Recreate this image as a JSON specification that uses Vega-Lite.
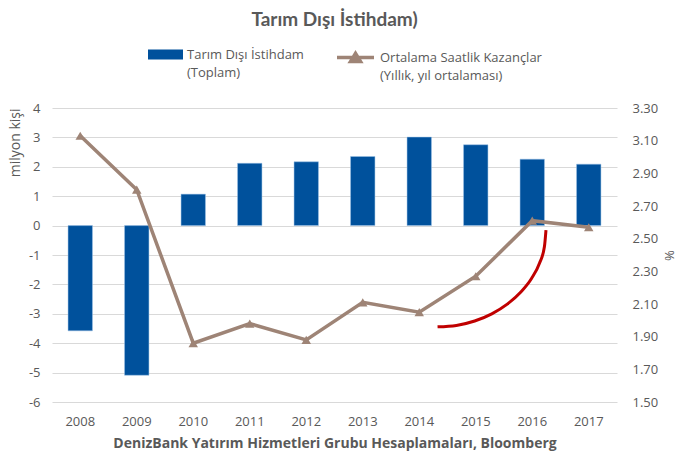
{
  "$schema": "https://vega.github.io/schema/vega-lite/v6.json",
  "width": 565,
  "height": 294,
  "autosize": {"type": "none"},
  "padding": {"left": 52, "top": 108, "right": 63, "bottom": 57},
  "background": "white",
  "config": {
    "font": "Open Sans",
    "view": {"stroke": null},
    "style": {"guide-label": {"lineHeight": 18}},
    "axis": {"labelColor": "#595959", "titleColor": "#595959", "labelFontSize": 13, "titleFontSize": 13, "labelFont": "Open Sans", "titleFont": "Open Sans"}
  },
  "title": {
    "text": "Tarım Dışı İstihdam)",
    "fontSize": 19,
    "fontWeight": "bold",
    "color": "#595959",
    "font": "Lato",
    "anchor": "middle",
    "offset": 7
  },
  "datasets": {
    "main": [
      {"year": 2008, "emp": -3.58, "wage": 3.13},
      {"year": 2009, "emp": -5.09, "wage": 2.80},
      {"year": 2010, "emp": 1.07, "wage": 1.86},
      {"year": 2011, "emp": 2.12, "wage": 1.98},
      {"year": 2012, "emp": 2.17, "wage": 1.88},
      {"year": 2013, "emp": 2.35, "wage": 2.11},
      {"year": 2014, "emp": 3.01, "wage": 2.05},
      {"year": 2015, "emp": 2.75, "wage": 2.27},
      {"year": 2016, "emp": 2.26, "wage": 2.61},
      {"year": 2017, "emp": 2.09, "wage": 2.57}
    ],
    "arc": [
      {"t": 2014.324, "v": 1.960},
      {"t": 2014.657, "v": 1.969},
      {"t": 2014.981, "v": 1.996},
      {"t": 2015.284, "v": 2.040},
      {"t": 2015.558, "v": 2.099},
      {"t": 2015.794, "v": 2.172},
      {"t": 2015.987, "v": 2.256},
      {"t": 2016.128, "v": 2.350},
      {"t": 2016.215, "v": 2.450},
      {"t": 2016.243, "v": 2.553}
    ]
  },
  "layer": [
    {
      "data": {"name": "main"},
      "mark": {"type": "bar", "stroke": "#9DC3E6", "strokeWidth": 0.5},
      "encoding": {
        "x": {
          "field": "year", "type": "ordinal",
          "scale": {"paddingInner": 0.568, "paddingOuter": 0.284},
          "axis": {
            "title": "DenizBank Yatırım Hizmetleri Grubu Hesaplamaları,  Bloomberg",
            "titleFontWeight": "bold", "titleFontSize": 14, "titlePadding": 8,
            "labelAngle": 0, "labelPadding": 13, "ticks": false, "domain": false, "grid": false
          }
        },
        "y": {
          "field": "emp", "type": "quantitative",
          "scale": {"domain": [-6, 4], "nice": false, "zero": false},
          "axis": {
            "title": "milyon kişi", "titleFontWeight": "normal", "titleFontSize": 14, "titleAnchor": "end", "titlePadding": 6,
            "values": [-6, -5, -4, -3, -2, -1, 0, 1, 2, 3, 4],
            "labelExpr": "toString(datum.value)",
            "grid": true, "gridColor": "#D9D9D9", "gridWidth": 1,
            "ticks": false, "domain": false, "labelPadding": 12
          }
        },
        "color": {
          "datum": "Tarım Dışı İstihdam|(Toplam)",
          "type": "nominal",
          "scale": {"range": ["#00519C"]},
          "legend": {
            "orient": "none", "legendX": 96, "legendY": -71, "title": null, "padding": 0,
            "symbolType": "M-1,-0.286L1,-0.286L1,0.286L-1,0.286Z", "symbolSize": 1225, "symbolStrokeWidth": 0,
            "labelExpr": "split(datum.label, '|')", "labelFontSize": 13, "labelColor": "#595959", "labelFont": "Open Sans",
            "labelBaseline": "middle", "labelLimit": 400, "labelOffset": 4,
            "encode": {"labels": {"update": {"lineHeight": {"value": 18}}}}
          }
        }
      }
    },
    {
      "data": {"name": "main"},
      "mark": {"type": "line", "strokeWidth": 3.5},
      "encoding": {
        "x": {"field": "year", "type": "ordinal", "axis": null},
        "y": {
          "field": "wage", "type": "quantitative",
          "scale": {"domain": [1.5, 3.3], "nice": false, "zero": false},
          "axis": {
            "orient": "right", "title": "%", "titleFontWeight": "normal", "titlePadding": 4,
            "values": [1.5, 1.7, 1.9, 2.1, 2.3, 2.5, 2.7, 2.9, 3.1, 3.3], "format": ".2f",
            "grid": false, "ticks": false, "domain": false, "labelPadding": 15
          }
        },
        "stroke": {
          "datum": "Ortalama Saatlik Kazançlar|(Yıllık, yıl ortalaması)",
          "type": "nominal",
          "scale": {"range": ["#9E8476"]},
          "legend": {
            "orient": "none", "legendX": 283, "legendY": -71, "title": null, "padding": 0,
            "symbolType": "M-1,0L1,0M-0.27,0.22L0,-0.22L0.27,0.22Z", "symbolSize": 1369, "symbolStrokeWidth": 3.5,
            "symbolFillColor": "#9E8476",
            "labelExpr": "split(datum.label, '|')", "labelFontSize": 13, "labelColor": "#595959", "labelFont": "Open Sans",
            "labelBaseline": "middle", "labelLimit": 400, "labelOffset": 4,
            "encode": {"labels": {"update": {"lineHeight": {"value": 18}}}, "symbols": {"update": {"fill": {"value": "#9E8476"}}}}
          }
        }
      }
    },
    {
      "data": {"name": "main"},
      "mark": {"type": "point", "shape": "triangle-up", "filled": true, "color": "#9E8476", "size": 90, "opacity": 1},
      "encoding": {
        "x": {"field": "year", "type": "ordinal", "axis": null},
        "y": {"field": "wage", "type": "quantitative", "scale": {"domain": [1.5, 3.3], "nice": false, "zero": false}, "axis": null}
      }
    },
    {
      "data": {"name": "arc"},
      "mark": {"type": "line", "color": "#C00000", "strokeWidth": 3, "interpolate": "monotone"},
      "encoding": {
        "x": {"field": "t", "type": "quantitative", "scale": {"domain": [2007.5, 2017.5], "nice": false, "zero": false}, "axis": null},
        "y": {"field": "v", "type": "quantitative", "scale": {"domain": [1.5, 3.3], "nice": false, "zero": false}, "axis": null}
      }
    }
  ],
  "resolve": {"scale": {"x": "independent", "y": "independent"}}
}
